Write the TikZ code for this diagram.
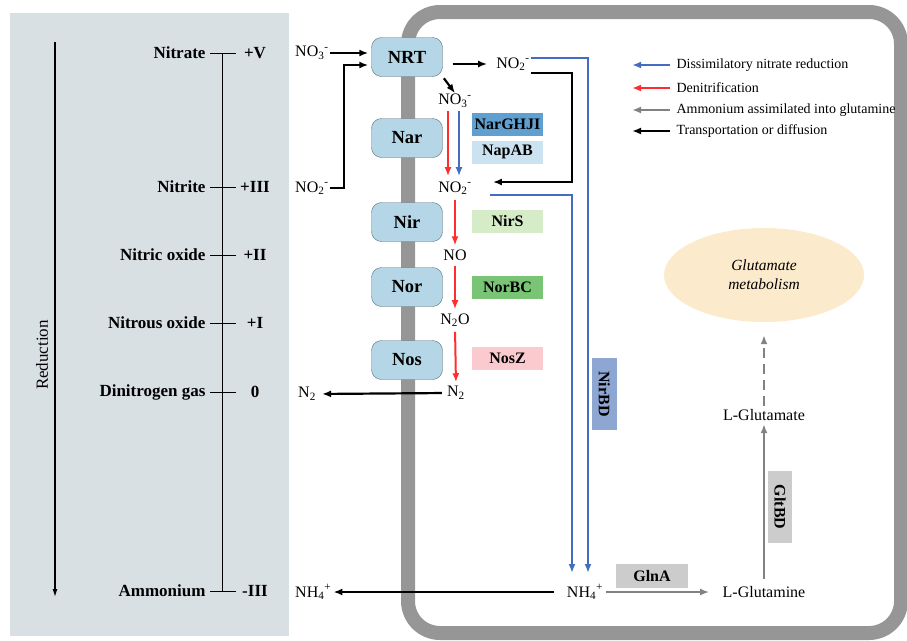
\documentclass[tikz,border=0pt]{standalone}
\usepackage{fontspec}
\setmainfont{Liberation Serif}
\usetikzlibrary{arrows.meta,positioning,shapes.geometric,calc}
\definecolor{panelGray} {RGB}{217,224,228}
\definecolor{membGray}  {RGB}{150,150,150}
\definecolor{protBlue}  {RGB}{180,214,230}
\definecolor{protEdge}  {RGB}{ 90,110,120}
\definecolor{dnrBlue}   {RGB}{ 68,108,194}
\definecolor{denRed}    {RGB}{255, 45, 45}
\definecolor{asmGray}   {RGB}{130,130,130}
\definecolor{narBlue}   {RGB}{ 96,160,208}
\definecolor{napBlue}   {RGB}{203,226,240}
\definecolor{nirGreen}  {RGB}{214,236,200}
\definecolor{norGreen}  {RGB}{122,196,118}
\definecolor{nosPink}   {RGB}{250,202,206}
\definecolor{nirbdBlue} {RGB}{142,166,210}
\definecolor{glnGray}   {RGB}{204,204,204}
\definecolor{metOrange} {RGB}{252,234,204}
\newcommand{\chemsp}[3]{#1\textsubscript{#2}\textsuperscript{#3}}

\begin{document}
\begin{tikzpicture}[x=1pt,y=-1pt,
  every node/.style={font=\fontsize{16}{18}\selectfont},
  lvl/.style={font=\bfseries\fontsize{17}{19}\selectfont},
  chem/.style={inner sep=1pt},
  prot/.style={draw=protEdge,fill=protBlue,rounded corners=10pt,
               minimum width=71pt,minimum height=39pt,
               font=\bfseries\fontsize{18.5}{20}\selectfont},
  enz/.style={minimum width=71pt,minimum height=23pt,inner sep=0pt,
              font=\bfseries\fontsize{16}{18}\selectfont},
  leg/.style={anchor=west,font=\fontsize{14}{16}\selectfont},
  blk/.style={line width=2.2pt,-{Latex[length=9pt,width=7pt]}},
  dnr/.style={draw=dnrBlue,line width=2pt,-{Latex[length=9pt,width=7pt]}},
  den/.style={draw=denRed,line width=2pt,-{Latex[length=9pt,width=7pt]}},
  asm/.style={draw=asmGray,line width=2.6pt,-{Latex[length=9pt,width=7pt]}}
]
\useasboundingbox (0,0) rectangle (907,640);
% Oxidation state panel
\fill[panelGray] (10,13) rectangle (289,636);
% Cell
\draw[membGray,line width=14pt,rounded corners=32pt] (408,12) rectangle (901,633);
% Oxidation scale
\draw[line width=1.2pt,-{Latex[length=8pt,width=5pt]}] (55,42) -- (55,597);
\node[rotate=90,font=\fontsize{17}{19}\selectfont] (redlab) at (42,355) {Reduction};
\draw[line width=1pt] (222,53) -- (222,591);
\foreach \yy/\cmp/\ox in {53/Nitrate/+V,187/Nitrite/+III,255/Nitric oxide/+II,
    323/Nitrous oxide/+I,392/Dinitrogen gas/0,591/Ammonium/-III}{
  \node[lvl,anchor=east] (cmp\yy) at (209,\yy) {\cmp};
  \node[lvl] (ox\yy) at (255,\yy) {\ox};
  \draw[line width=1pt] (210,\yy) -- (236,\yy);
}
% Outside species
\node[chem,anchor=west] (no3out) at (294,53)  {\chemsp{NO}{3}{-}};
\node[chem,anchor=west] (no2out) at (294,188) {\chemsp{NO}{2}{-}};
\node[chem,anchor=west] (n2out)  at (297,394) {N\textsubscript{2}};
\node[chem,anchor=west] (nh4out) at (294,592) {\chemsp{NH}{4}{+}};
% Membrane proteins
\node[prot] (nrt) at (407,57)  {NRT};
\node[prot] (nar) at (407,138) {Nar};
\node[prot] (nir) at (407,222) {Nir};
\node[prot] (nor) at (407,287) {Nor};
\node[prot] (nos) at (407,360) {Nos};
% Inside species
\node[chem] (no2top) at (513,64)  {\chemsp{NO}{2}{-}};
\node[chem] (no3in)  at (455,101) {\chemsp{NO}{3}{-}};
\node[chem] (no2in)  at (455,188) {\chemsp{NO}{2}{-}};
\node[chem] (noin)   at (455,255) {NO};
\node[chem] (ntwooin) at (455,320) {N\textsubscript{2}O};
\node[chem] (n2in)   at (456,393) {N\textsubscript{2}};
\node[chem] (nh4in)  at (585,592) {\chemsp{NH}{4}{+}};
% Enzymes
\node[enz,fill=narBlue]  (narghji) at (507.5,124.5) {NarGHJI};
\node[enz,fill=napBlue]  (napab)   at (507.5,152)   {NapAB};
\node[enz,fill=nirGreen] (nirs)    at (507.5,221.5) {NirS};
\node[enz,fill=norGreen] (norbc)   at (507.5,287.5) {NorBC};
\node[enz,fill=nosPink]  (nosz)    at (507.5,358.5) {NosZ};
\node[enz,fill=nirbdBlue,rotate=-90,minimum width=72pt,minimum height=25pt]
  (nirbd) at (604.5,394) {NirBD};
\node[enz,fill=glnGray,minimum width=72pt,minimum height=24pt]
  (glna) at (652,576) {GlnA};
\node[enz,fill=glnGray,rotate=-90,minimum width=72pt,minimum height=24pt]
  (gltbd) at (780,507) {GltBD};
% Glutamate side
\node (gln) at (764,592) {L-Glutamine};
\node (glu) at (764,415) {L-Glutamate};
\node[ellipse,fill=metOrange,minimum width=200pt,minimum height=94pt,align=center,
      font=\itshape\fontsize{15.5}{19}\selectfont] (glumet) at (764,275)
  {Glutamate\\metabolism};
% Turning points
\coordinate (chanB) at (572,182);
\coordinate (dnrL)  at (572,573);
\coordinate (dnrR)  at (588,573);
% Transport
\draw[blk,shorten >=3pt] (no3out.east) -- (nrt.west |- no3out.east);
\draw[blk,shorten >=3pt] (no2out.east) -- ++(14,0) |- ([yshift=-8pt]nrt.west);
\draw[blk,shorten <=10pt,shorten >=8pt] (nrt.east |- no2top.west) -- (no2top.west);
\draw[blk,shorten <=2pt] (nrt.south east) -- (no3in.north);
\draw[blk,shorten >=20pt] ([yshift=-9pt]no2top.east) -| (chanB) -- (no2in.east |- chanB);
\draw[blk,shorten <=4pt,shorten >=5pt] (n2in.west) -- (n2out.east);
\draw[blk,shorten <=12pt,shorten >=1pt] (nh4in.west) -- (nh4out.east);
% Denitrification
\draw[den,shorten <=2pt,shorten >=4pt] ([xshift=-7pt]no3in.south) -- ([xshift=-7pt]no2in.north);
\draw[den,shorten <=4pt,shorten >=3pt] (no2in.south) -- (noin.north);
\draw[den,shorten <=4pt,shorten >=3pt] (noin.south) -- (ntwooin.north);
\draw[den,shorten <=4pt,shorten >=3pt] (ntwooin.south) -- (n2in.north);
% Dissimilatory reduction
\draw[dnr,shorten <=2pt,shorten >=4pt] ([xshift=4pt]no3in.south) -- ([xshift=4pt]no2in.north);
\draw[dnr] ([yshift=6pt]no2top.east) -| (dnrR);
\draw[dnr] ([xshift=17pt,yshift=-7pt]no2in.east) -| (dnrL);
% Assimilation
\draw[asm,shorten <=2pt,shorten >=10pt] (nh4in.east) -- (nh4in.east -| gln.west);
\draw[asm,shorten <=4pt] (gln.north) -- (glu.south);
\draw[asm,dash pattern=on 10pt off 6pt,shorten >=13pt] (glu.north) -- (glumet.south);
% Legend
\node[leg] (leg1) at (673,65)  {Dissimilatory nitrate reduction};
\node[leg] (leg2) at (673,88)  {Denitrification};
\node[leg] (leg3) at (673,110) {Ammonium assimilated into glutamine};
\node[leg] (leg4) at (673,131) {Transportation or diffusion};
\draw[dnr,line width=2.6pt] ([xshift=-3pt]leg1.west) -- ([xshift=-41pt]leg1.west);
\draw[den,line width=2.6pt] ([xshift=-3pt]leg2.west) -- ([xshift=-41pt]leg2.west);
\draw[asm] ([xshift=-3pt]leg3.west) -- ([xshift=-41pt]leg3.west);
\draw[blk,line width=2.6pt] ([xshift=-3pt]leg4.west) -- ([xshift=-41pt]leg4.west);
\end{tikzpicture}
\end{document}
